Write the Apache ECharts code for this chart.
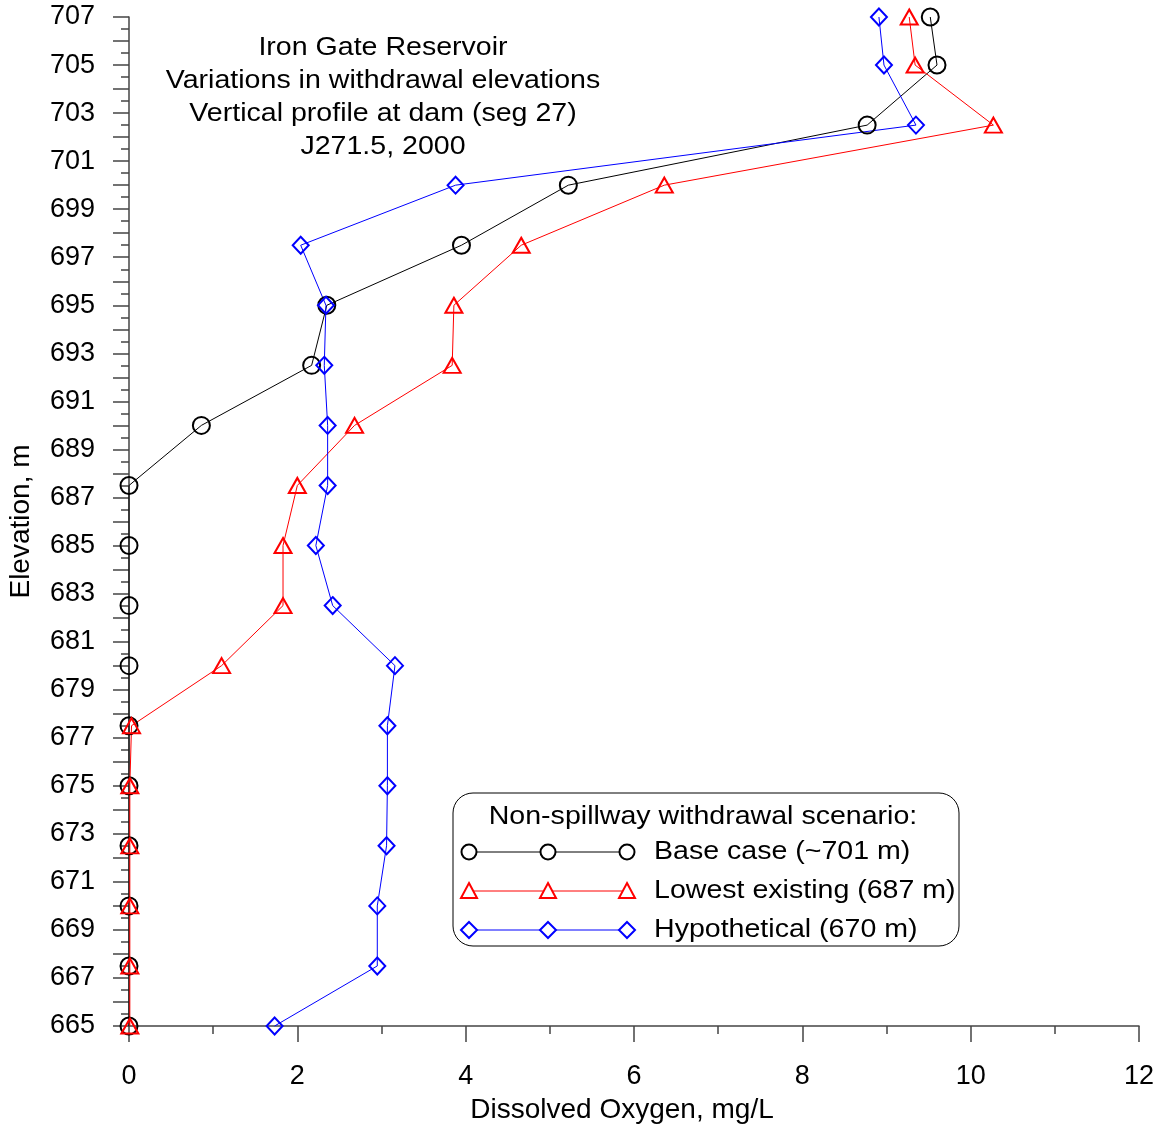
<!DOCTYPE html>
<html>
<head>
<meta charset="utf-8">
<script src="https://cdn.jsdelivr.net/npm/echarts@6/dist/echarts.min.js"></script>
<style>
  html, body { margin: 0; padding: 0; background: #fff; }
  #chart { width: 1164px; height: 1130px; }
</style>
</head>
<body>
<div id="chart"></div>
<script>
// elevations of the profile points (m)
const elevations = [707, 705, 702.5, 700, 697.5, 695, 692.5, 690, 687.5, 685, 682.5, 680, 677.5, 675, 672.5, 670, 667.5, 665];

// dissolved oxygen, mg/L, one value per elevation
const baseCase = [9.52, 9.60, 8.77, 5.22, 3.95, 2.35, 2.17, 0.86, 0, 0, 0, 0, 0, 0, 0, 0, 0, 0];
const lowestExisting = [9.27, 9.34, 10.27, 6.36, 4.66, 3.86, 3.84, 2.68, 2.0, 1.83, 1.83, 1.10, 0.03, 0.01, 0.01, 0.01, 0.01, 0.01];
const hypothetical = [8.91, 8.97, 9.35, 3.88, 2.04, 2.34, 2.32, 2.36, 2.36, 2.22, 2.42, 3.16, 3.07, 3.07, 3.06, 2.95, 2.95, 1.73];

const seriesNames = ['Base case (~701 m)', 'Lowest existing (687 m)', 'Hypothetical (670 m)'];
const titleLines = ['Iron Gate Reservoir', 'Variations in withdrawal elevations', 'Vertical profile at dam (seg 27)', 'J271.5, 2000'];

const FONT = '"Liberation Sans", Arial, sans-serif';
// the original text is a bit wider than Arial, so stretch the free text a little
const STRETCH = 1.12;

function pairs(values) {
    return values.map((v, i) => [v, elevations[i]]);
}

function makeSeries(name, values, color, symbol, size) {
    return {
        name: name,
        type: 'line',
        data: pairs(values),
        symbol: symbol,
        symbolSize: size,
        clip: false,
        lineStyle: { color: color, width: 1 },
        itemStyle: { color: 'rgba(0,0,0,0)', borderColor: color, borderWidth: 2 },
        emphasis: { disabled: true }
    };
}

function textEl(str, x, y, align, z) {
    return {
        type: 'text', x: x, y: y, z: z, scaleX: STRETCH,
        style: { text: str, font: '25.5px ' + FONT, fill: '#000', align: align, verticalAlign: 'middle' }
    };
}

// legend box drawn by hand (three markers on each sample line)
function legendGraphics() {
    const g = [];
    g.push({
        type: 'rect', shape: { x: 453, y: 793, width: 506, height: 153, r: 20 },
        style: { fill: '#fff', stroke: '#000', lineWidth: 1 }, z: 10
    });
    g.push(textEl('Non-spillway withdrawal scenario:', 703, 817, 'center', 11));
    const rows = [852, 891, 930];
    const colors = ['#000', '#ff0000', '#0000ff'];
    const xs = [469, 548, 627];
    rows.forEach((y, r) => {
        g.push({
            type: 'line', shape: { x1: 469, y1: y, x2: 627, y2: y },
            style: { stroke: colors[r], lineWidth: 1 }, z: 11
        });
        xs.forEach(x => {
            let m;
            if (r === 0) {
                m = { type: 'circle', shape: { cx: x, cy: y, r: 7.5 } };
            } else if (r === 1) {
                m = { type: 'polygon', shape: { points: [[x, y - 8], [x + 8, y + 7], [x - 8, y + 7]] } };
            } else {
                m = { type: 'polygon', shape: { points: [[x, y - 8], [x + 8, y], [x, y + 8], [x - 8, y]] } };
            }
            m.style = { fill: '#fff', stroke: colors[r], lineWidth: 2 };
            m.z = 12;
            g.push(m);
        });
        g.push(textEl(seriesNames[r], 654, y, 'left', 11));
    });
    return g;
}

function titleGraphics() {
    return titleLines.map((t, i) => textEl(t, 383, 48 + i * 33, 'center', 5));
}

const chart = echarts.init(document.getElementById('chart'), null, { renderer: 'canvas' });

const axisColor = '#444';

const option = {
    animation: false,
    backgroundColor: '#fff',
    textStyle: { fontFamily: FONT },
    grid: { left: 129, right: 25, top: 17, bottom: 104, containLabel: false, outerBoundsMode: 'none' },
    xAxis: {
        type: 'value',
        min: 0, max: 12, interval: 2,
        name: 'Dissolved Oxygen, mg/L',
        nameLocation: 'middle',
        nameGap: 70,
        nameTextStyle: { fontSize: 28, color: '#000', fontFamily: FONT, padding: [0, 24, 0, 0] },
        axisLine: { show: true, onZero: false, lineStyle: { color: axisColor, width: 1.5 } },
        axisTick: { show: true, length: 16, lineStyle: { color: axisColor, width: 1.5 } },
        minorTick: { show: true, splitNumber: 2, length: 8, lineStyle: { color: axisColor, width: 1.5 } },
        axisLabel: { fontSize: 27, color: '#000', margin: 37, fontFamily: FONT },
        splitLine: { show: false }
    },
    yAxis: {
        type: 'value',
        min: 665, max: 707, interval: 1,
        name: 'Elevation, m',
        nameLocation: 'middle',
        nameGap: 94,
        nameTextStyle: { fontSize: 28, color: '#000', fontFamily: FONT },
        axisLine: { show: true, onZero: false, lineStyle: { color: axisColor, width: 1.5 } },
        axisTick: { show: true, length: 16, lineStyle: { color: axisColor, width: 1.5 } },
        minorTick: { show: true, splitNumber: 2, length: 8, lineStyle: { color: axisColor, width: 1.5 } },
        axisLabel: {
            fontSize: 27, color: '#000', margin: 34, fontFamily: FONT,
            formatter: v => (Math.round(v) % 2 === 1 ? String(v) : '')
        },
        splitLine: { show: false }
    },
    series: [
        makeSeries(seriesNames[0], baseCase, '#000000', 'circle', 17),
        makeSeries(seriesNames[1], lowestExisting, '#ff0000', 'triangle', [17, 15]),
        makeSeries(seriesNames[2], hypothetical, '#0000ff', 'diamond', [16, 17])
    ],
    graphic: titleGraphics().concat(legendGraphics())
};

chart.setOption(option);
</script>
</body>
</html>
